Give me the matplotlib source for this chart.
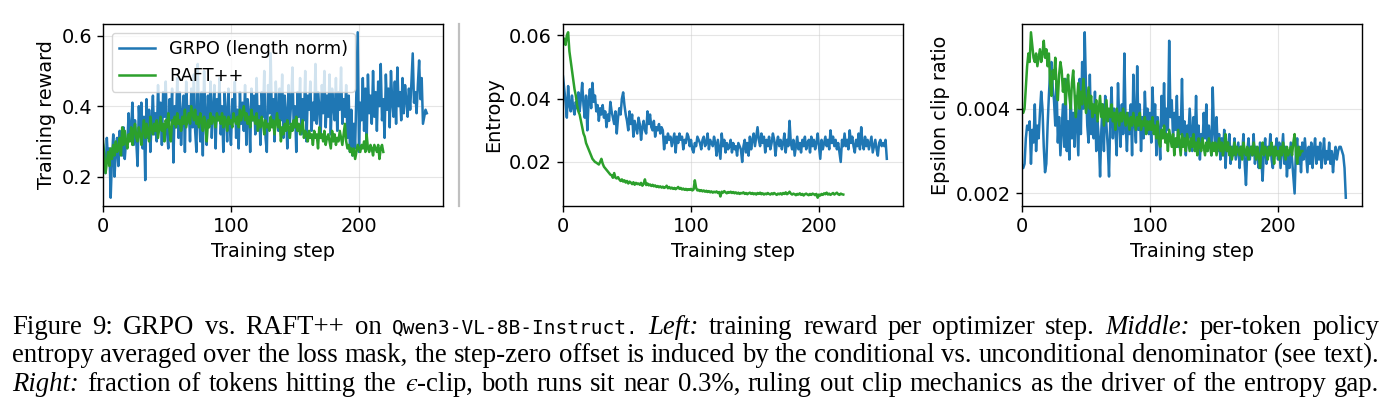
import matplotlib
matplotlib.use("Agg")
import matplotlib.pyplot as plt
from matplotlib.ticker import MultipleLocator

# ---------------- data ----------------
grpo_reward = [
    0.29, 0.25, 0.21, 0.31, 0.24, 0.28, 0.14, 0.25, 0.32, 0.20,
    0.27, 0.31, 0.23, 0.33, 0.28, 0.26, 0.34, 0.25, 0.30, 0.29,
    0.38, 0.31, 0.34, 0.41, 0.29, 0.36, 0.30, 0.23, 0.40, 0.33,
    0.41, 0.28, 0.37, 0.19, 0.42, 0.31, 0.39, 0.27, 0.36, 0.43,
    0.32, 0.38, 0.30, 0.46, 0.35, 0.41, 0.29, 0.44, 0.37, 0.47,
    0.33, 0.28, 0.42, 0.36, 0.45, 0.24, 0.40, 0.34, 0.48, 0.31,
    0.44, 0.29, 0.38, 0.43, 0.27, 0.47, 0.36, 0.40, 0.30, 0.45,
    0.34, 0.49, 0.33, 0.27, 0.52, 0.38, 0.30, 0.44, 0.26, 0.50,
    0.37, 0.29, 0.43, 0.35, 0.47, 0.31, 0.39, 0.46, 0.28, 0.42,
    0.36, 0.48, 0.32, 0.40, 0.27, 0.44, 0.38, 0.30, 0.45, 0.34,
    0.29, 0.42, 0.37, 0.47, 0.31, 0.39, 0.28, 0.44, 0.35, 0.41,
    0.33, 0.46, 0.29, 0.42, 0.38, 0.27, 0.45, 0.36, 0.43, 0.32,
    0.48, 0.34, 0.40, 0.29, 0.44, 0.37, 0.50, 0.31, 0.27, 0.46,
    0.38, 0.55, 0.35, 0.42, 0.30, 0.47, 0.39, 0.33, 0.45, 0.36,
    0.49, 0.31, 0.43, 0.38, 0.28, 0.46, 0.35, 0.41, 0.51, 0.34,
    0.40, 0.27, 0.44, 0.37, 0.48, 0.32, 0.42, 0.36, 0.50, 0.30,
    0.43, 0.39, 0.47, 0.33, 0.41, 0.36, 0.52, 0.35, 0.44, 0.40,
    0.31, 0.46, 0.38, 0.50, 0.34, 0.43, 0.37, 0.49, 0.32, 0.45,
    0.40, 0.36, 0.48, 0.33, 0.44, 0.39, 0.51, 0.35, 0.42, 0.37,
    0.46, 0.31, 0.43, 0.27, 0.39, 0.26, 0.35, 0.28, 0.44, 0.61,
    0.27, 0.41, 0.36, 0.48, 0.33, 0.45, 0.30, 0.49, 0.38, 0.43,
    0.35, 0.50, 0.37, 0.44, 0.33, 0.47, 0.40, 0.52, 0.36, 0.42,
    0.31, 0.49, 0.39, 0.45, 0.34, 0.50, 0.41, 0.37, 0.47, 0.35,
    0.51, 0.40, 0.44, 0.36, 0.48, 0.38, 0.46, 0.42, 0.37, 0.45,
    0.39, 0.47, 0.55, 0.41, 0.44, 0.38, 0.46, 0.53, 0.42, 0.48,
    0.35, 0.37, 0.39, 0.38,
]
raft_reward = [
    0.30, 0.26, 0.21, 0.24, 0.27, 0.23, 0.28, 0.25, 0.29, 0.26,
    0.30, 0.27, 0.28, 0.31, 0.26, 0.34, 0.29, 0.33, 0.30, 0.28,
    0.32, 0.30, 0.34, 0.29, 0.33, 0.35, 0.31, 0.30, 0.34, 0.32,
    0.29, 0.33, 0.36, 0.31, 0.35, 0.33, 0.30, 0.37, 0.34, 0.32,
    0.35, 0.33, 0.36, 0.31, 0.34, 0.37, 0.33, 0.35, 0.30, 0.36,
    0.34, 0.38, 0.33, 0.30, 0.36, 0.35, 0.37, 0.34, 0.38, 0.35,
    0.36, 0.33, 0.37, 0.35, 0.39, 0.34, 0.36, 0.38, 0.35, 0.40,
    0.38, 0.36, 0.39, 0.35, 0.37, 0.34, 0.38, 0.36, 0.33, 0.37,
    0.35, 0.30, 0.36, 0.34, 0.38, 0.35, 0.37, 0.36, 0.34, 0.38,
    0.36, 0.37, 0.35, 0.38, 0.34, 0.37, 0.36, 0.33, 0.37, 0.35,
    0.36, 0.34, 0.38, 0.36, 0.35, 0.37, 0.34, 0.39, 0.36, 0.38,
    0.40, 0.36, 0.38, 0.35, 0.37, 0.34, 0.39, 0.36, 0.37, 0.35,
    0.38, 0.33, 0.36, 0.34, 0.37, 0.35, 0.32, 0.36, 0.34, 0.35,
    0.33, 0.37, 0.34, 0.36, 0.32, 0.35, 0.38, 0.34, 0.36, 0.30,
    0.34, 0.32, 0.35, 0.33, 0.36, 0.34, 0.31, 0.35, 0.33, 0.36,
    0.34, 0.37, 0.33, 0.35, 0.32, 0.34, 0.36, 0.31, 0.33, 0.32,
    0.30, 0.33, 0.31, 0.32, 0.29, 0.33, 0.31, 0.32, 0.28, 0.34,
    0.31, 0.32, 0.30, 0.33, 0.29, 0.31, 0.32, 0.30, 0.28, 0.33,
    0.30, 0.32, 0.29, 0.31, 0.30, 0.33, 0.31, 0.29, 0.32, 0.35,
    0.30, 0.28, 0.29, 0.27, 0.28, 0.26, 0.28, 0.25, 0.27, 0.29,
    0.28, 0.27, 0.29, 0.28, 0.30, 0.27, 0.32, 0.28, 0.27, 0.29,
    0.28, 0.26, 0.29, 0.28, 0.27, 0.29, 0.25, 0.28, 0.29, 0.27,
]
grpo_entropy = [
    0.047, 0.043, 0.039, 0.034, 0.044, 0.038, 0.036, 0.041, 0.037, 0.035,
    0.039, 0.037, 0.042, 0.036, 0.040, 0.045, 0.038, 0.034, 0.041, 0.030,
    0.039, 0.043, 0.037, 0.045, 0.039, 0.041, 0.036, 0.038, 0.033, 0.037,
    0.035, 0.038, 0.034, 0.036, 0.031, 0.035, 0.033, 0.039, 0.036, 0.034,
    0.032, 0.036, 0.029, 0.034, 0.037, 0.035, 0.040, 0.042, 0.038, 0.035,
    0.033, 0.030, 0.036, 0.032, 0.035, 0.028, 0.033, 0.031, 0.029, 0.034,
    0.032, 0.027, 0.031, 0.033, 0.030, 0.029, 0.036, 0.032, 0.035, 0.031,
    0.030, 0.033, 0.028, 0.031, 0.030, 0.032, 0.029, 0.031, 0.030, 0.024,
    0.028, 0.026, 0.029, 0.027, 0.028, 0.025, 0.027, 0.029, 0.023, 0.028,
    0.026, 0.029, 0.027, 0.028, 0.024, 0.027, 0.026, 0.029, 0.028, 0.025,
    0.027, 0.024, 0.023, 0.026, 0.025, 0.028, 0.027, 0.026, 0.024, 0.027,
    0.028, 0.025, 0.026, 0.029, 0.024, 0.027, 0.026, 0.025, 0.028, 0.026,
    0.022, 0.027, 0.024, 0.021, 0.029, 0.025, 0.027, 0.023, 0.026, 0.024,
    0.025, 0.027, 0.023, 0.026, 0.024, 0.025, 0.022, 0.026, 0.025, 0.024,
    0.020, 0.025, 0.027, 0.023, 0.026, 0.022, 0.028, 0.024, 0.027, 0.029,
    0.025, 0.028, 0.031, 0.027, 0.025, 0.029, 0.026, 0.028, 0.023, 0.027,
    0.025, 0.028, 0.024, 0.026, 0.029, 0.027, 0.022, 0.026, 0.028, 0.025,
    0.027, 0.024, 0.026, 0.029, 0.023, 0.027, 0.025, 0.033, 0.026, 0.024,
    0.027, 0.022, 0.025, 0.028, 0.024, 0.026, 0.023, 0.027, 0.025, 0.028,
    0.024, 0.026, 0.027, 0.023, 0.028, 0.025, 0.027, 0.024, 0.026, 0.029,
    0.025, 0.021, 0.027, 0.024, 0.026, 0.028, 0.025, 0.027, 0.024, 0.030,
    0.026, 0.028, 0.025, 0.027, 0.024, 0.026, 0.023, 0.020, 0.027, 0.025,
    0.029, 0.025, 0.027, 0.024, 0.030, 0.026, 0.028, 0.025, 0.023, 0.027,
    0.025, 0.029, 0.024, 0.031, 0.026, 0.024, 0.028, 0.025, 0.027, 0.024,
    0.026, 0.028, 0.023, 0.025, 0.027, 0.024, 0.022, 0.026, 0.027, 0.025,
    0.026, 0.025, 0.027, 0.021,
]
raft_entropy = [
    0.058, 0.059, 0.057, 0.060, 0.061, 0.055, 0.052, 0.049, 0.046, 0.043,
    0.041, 0.038, 0.036, 0.035, 0.033, 0.031, 0.029, 0.028, 0.026, 0.025,
    0.024, 0.023, 0.022, 0.021, 0.0205, 0.020, 0.0198, 0.0195, 0.0192, 0.020,
    0.021, 0.0195, 0.0185, 0.018, 0.0175, 0.017, 0.0165, 0.016, 0.0158, 0.015,
    0.0165, 0.015, 0.0148, 0.0152, 0.0145, 0.014, 0.0145, 0.0138, 0.0142, 0.0135,
    0.014, 0.0132, 0.0138, 0.0135, 0.013, 0.0136, 0.0128, 0.0134, 0.013, 0.0132,
    0.0128, 0.0134, 0.0125, 0.0131, 0.0145, 0.0127, 0.0132, 0.0126, 0.0129, 0.0124,
    0.0128, 0.0123, 0.0126, 0.0121, 0.0124, 0.012, 0.0123, 0.0119, 0.0122, 0.0118,
    0.012, 0.0125, 0.0117, 0.0121, 0.0116, 0.0119, 0.0115, 0.0118, 0.0114, 0.0117,
    0.0121, 0.0115, 0.0118, 0.0113, 0.0116, 0.0112, 0.0115, 0.0111, 0.0114, 0.0112,
    0.0115, 0.011, 0.0113, 0.0142, 0.0118, 0.011, 0.0112, 0.0108, 0.0111, 0.0107,
    0.011, 0.0106, 0.0109, 0.0105, 0.0108, 0.0104, 0.0107, 0.0103, 0.0106, 0.0104,
    0.0107, 0.0102, 0.0105, 0.0091, 0.0106, 0.0103, 0.0108, 0.0104, 0.0101, 0.0105,
    0.0103, 0.0106, 0.0102, 0.0105, 0.0101, 0.0104, 0.010, 0.0103, 0.0099, 0.0102,
    0.0101, 0.0104, 0.0099, 0.0102, 0.0098, 0.0101, 0.0103, 0.0099, 0.0102, 0.0098,
    0.0101, 0.0097, 0.0102, 0.0099, 0.0103, 0.0098, 0.0101, 0.0097, 0.010, 0.0098,
    0.0102, 0.0099, 0.0097, 0.0101, 0.0098, 0.0102, 0.0099, 0.0096, 0.010, 0.0098,
    0.0101, 0.0097, 0.0102, 0.0099, 0.0104, 0.0098, 0.0101, 0.0106, 0.010, 0.0097,
    0.010, 0.0098, 0.0095, 0.0099, 0.0097, 0.0101, 0.0096, 0.0099, 0.0094, 0.0098,
    0.010, 0.0097, 0.0095, 0.0099, 0.0096, 0.010, 0.0098, 0.0095, 0.0099, 0.0087,
    0.0097, 0.0094, 0.0099, 0.0096, 0.0101, 0.0098, 0.0103, 0.0097, 0.010, 0.0096,
    0.0099, 0.0102, 0.0097, 0.010, 0.0103, 0.0098, 0.0096, 0.010, 0.0098, 0.0097,
]
grpo_clip = [
    0.0026, 0.0026, 0.0027, 0.0033, 0.0036, 0.0035, 0.0037, 0.0027, 0.0035, 0.0032,
    0.0041, 0.0030, 0.0036, 0.0033, 0.0039, 0.0044, 0.0040, 0.0031, 0.0025, 0.0027,
    0.0036, 0.0043, 0.0049, 0.0051, 0.0045, 0.0042, 0.0036, 0.0046, 0.0032, 0.0038,
    0.0029, 0.0035, 0.0041, 0.0031, 0.0047, 0.0030, 0.0037, 0.0028, 0.0044, 0.0033,
    0.0039, 0.0031, 0.0043, 0.0036, 0.0029, 0.0047, 0.0034, 0.0051, 0.0040, 0.0058,
    0.0045, 0.0036, 0.0032, 0.0048, 0.0034, 0.0039, 0.0033, 0.0044, 0.0030, 0.0037,
    0.0033, 0.0024, 0.0035, 0.0041, 0.0030, 0.0043, 0.0036, 0.0031, 0.0024, 0.0038,
    0.0045, 0.0033, 0.0040, 0.0035, 0.0029, 0.0046, 0.0037, 0.0031, 0.0041, 0.0034,
    0.0053, 0.0036, 0.0030, 0.0039, 0.0034, 0.0041, 0.0029, 0.0048, 0.0037, 0.0032,
    0.0050, 0.0035, 0.0041, 0.0030, 0.0038, 0.0033, 0.0044, 0.0036, 0.0040, 0.0034,
    0.0039, 0.0032, 0.0045, 0.0036, 0.0041, 0.0029, 0.0038, 0.0034, 0.0028, 0.0043,
    0.0036, 0.0046, 0.0033, 0.0040, 0.0035, 0.0056, 0.0038, 0.0042, 0.0033, 0.0039,
    0.0035, 0.0043, 0.0031, 0.0038, 0.0034, 0.0047, 0.0032, 0.0037, 0.0029, 0.0036,
    0.0033, 0.0040, 0.0035, 0.0030, 0.0038, 0.0032, 0.0043, 0.0031, 0.0036, 0.0028,
    0.0034, 0.0031, 0.0039, 0.0033, 0.0041, 0.0030, 0.0036, 0.0033, 0.0029, 0.0045,
    0.0035, 0.0031, 0.0038, 0.0030, 0.0034, 0.0028, 0.0033, 0.0029, 0.0035, 0.0026,
    0.0032, 0.0030, 0.0034, 0.0027, 0.0031, 0.0029, 0.0033, 0.0028, 0.0030, 0.0032,
    0.0026, 0.0031, 0.0029, 0.0034, 0.0027, 0.0022, 0.0030, 0.0033, 0.0028, 0.0031,
    0.0029, 0.0034, 0.0027, 0.0031, 0.0029, 0.0026, 0.0032, 0.0028, 0.0023, 0.0030,
    0.0033, 0.0027, 0.0031, 0.0029, 0.0034, 0.0028, 0.0026, 0.0031, 0.0030, 0.0033,
    0.0028, 0.0032, 0.0026, 0.0030, 0.0034, 0.0027, 0.0031, 0.0024, 0.0029, 0.0026,
    0.0032, 0.0028, 0.0024, 0.0020, 0.0030, 0.0033, 0.0027, 0.0031, 0.0025, 0.0032,
    0.0028, 0.0033, 0.0029, 0.0025, 0.0031, 0.0027, 0.0032, 0.0026, 0.0030, 0.0033,
    0.0027, 0.0031, 0.0028, 0.0032, 0.0026, 0.0029, 0.0033, 0.0027, 0.0030, 0.0028,
    0.0032, 0.0027, 0.0030, 0.0025, 0.0029, 0.0031, 0.0028, 0.0030, 0.0031, 0.0031,
    0.0030, 0.0029, 0.0026, 0.0019,
]
raft_clip = [
    0.0040, 0.0039, 0.0040, 0.0045, 0.0050, 0.0053, 0.0051, 0.0058, 0.0055, 0.0052,
    0.0051, 0.0053, 0.0050, 0.0052, 0.0054, 0.0051, 0.0053, 0.0056, 0.0052, 0.0054,
    0.0050, 0.0053, 0.0046, 0.0043, 0.0049, 0.0047, 0.0052, 0.0045, 0.0042, 0.0048,
    0.0051, 0.0049, 0.0044, 0.0047, 0.0041, 0.0045, 0.0048, 0.0043, 0.0040, 0.0046,
    0.0049, 0.0044, 0.0038, 0.0042, 0.0046, 0.0040, 0.0044, 0.0041, 0.0047, 0.0043,
    0.0039, 0.0042, 0.0045, 0.0040, 0.0043, 0.0038, 0.0041, 0.0039, 0.0042, 0.0037,
    0.0040, 0.0043, 0.0038, 0.0041, 0.0036, 0.0039, 0.0042, 0.0037, 0.0040, 0.0038,
    0.0041, 0.0037, 0.0039, 0.0035, 0.0040, 0.0038, 0.0036, 0.0039, 0.0037, 0.0040,
    0.0038, 0.0036, 0.0039, 0.0037, 0.0035, 0.0038, 0.0036, 0.0039, 0.0037, 0.0035,
    0.0038, 0.0036, 0.0039, 0.0035, 0.0037, 0.0036, 0.0038, 0.0034, 0.0037, 0.0035,
    0.0037, 0.0035, 0.0038, 0.0034, 0.0036, 0.0033, 0.0037, 0.0032, 0.0031, 0.0035,
    0.0033, 0.0036, 0.0032, 0.0034, 0.0030, 0.0035, 0.0033, 0.0031, 0.0034, 0.0029,
    0.0033, 0.0031, 0.0035, 0.0032, 0.0029, 0.0034, 0.0031, 0.0033, 0.0030, 0.0034,
    0.0032, 0.0030, 0.0033, 0.0031, 0.0034, 0.0030, 0.0032, 0.0029, 0.0033, 0.0031,
    0.0030, 0.0033, 0.0031, 0.0029, 0.0032, 0.0030, 0.0033, 0.0031, 0.0029, 0.0032,
    0.0030, 0.0032, 0.0029, 0.0031, 0.0033, 0.0030, 0.0032, 0.0029, 0.0031, 0.0034,
    0.0030, 0.0032, 0.0029, 0.0031, 0.0028, 0.0030, 0.0032, 0.0029, 0.0031, 0.0030,
    0.0029, 0.0031, 0.0028, 0.0032, 0.0030, 0.0029, 0.0031, 0.0028, 0.0030, 0.0031,
    0.0029, 0.0032, 0.0030, 0.0028, 0.0031, 0.0029, 0.0026, 0.0030, 0.0032, 0.0029,
    0.0031, 0.0030, 0.0028, 0.0031, 0.0029, 0.0032, 0.0030, 0.0027, 0.0031, 0.0029,
    0.0030, 0.0028, 0.0031, 0.0029, 0.0032, 0.0030, 0.0028, 0.0031, 0.0029, 0.0030,
    0.0031, 0.0029, 0.0032, 0.0034, 0.0030, 0.0027, 0.0031, 0.0029, 0.0030, 0.0030,
]

series_labels = ["GRPO (length norm)", "RAFT++"]
y_labels = ["Training reward", "Entropy", "Epsilon clip ratio"]
x_label = "Training step"
caption_lines = [
    [("Figure", "rm"), ("9:", "rm"), ("GRPO", "rm"), ("vs.", "rm"), ("RAFT++", "rm"),
     ("on", "rm"), ("Qwen3-VL-8B-Instruct.", "tt"), ("Left:", "it"), ("training", "rm"),
     ("reward", "rm"), ("per", "rm"), ("optimizer", "rm"), ("step.", "rm"),
     ("Middle:", "it"), ("per-token", "rm"), ("policy", "rm")],
    [(w, "rm") for w in "entropy averaged over the loss mask, the step-zero offset is induced "
                        "by the conditional vs. unconditional denominator (see text).".split()],
    [("Right:", "it")] + [(w, "rm") for w in "fraction of tokens hitting the".split()]
    + [("$\u03f5$-clip,", "rm")]
    + [(w, "rm") for w in "both runs sit near 0.3%, ruling out clip mechanics as the driver "
                          "of the entropy gap.".split()],
]

# ---------------- style ----------------
plt.rcParams["mathtext.fontset"] = "stix"
FS = 13.9
BLUE = "#1f77b4"
GREEN = "#2ca02c"

W, H = 1397, 418
fig = plt.figure(figsize=(W / 100, H / 100), dpi=100)

lefts = [103, 563, 1022]
ax_w = 340
ax_top, ax_bot = 24, 206
datasets = [(grpo_reward, raft_reward), (grpo_entropy, raft_entropy), (grpo_clip, raft_clip)]
ysteps = [0.2, 0.02, 0.002]

axes = []
for i, (l, (g, r)) in enumerate(zip(lefts, datasets)):
    ax = fig.add_axes([l / W, 1 - ax_bot / H, ax_w / W, (ax_bot - ax_top) / H])
    ax.plot(range(len(g)), g, color=BLUE, lw=1.8, label=series_labels[0])
    ax.plot(range(len(r)), r, color=GREEN, lw=1.8, label=series_labels[1])
    ax.set_xlim(left=0)
    ax.xaxis.set_major_locator(MultipleLocator(100))
    ax.yaxis.set_major_locator(MultipleLocator(ysteps[i]))
    ax.grid(True, color="#cccccc", alpha=0.5, lw=0.8)
    ax.set_axisbelow(True)
    ax.tick_params(labelsize=FS, width=1.0, length=4.5)
    for s in ax.spines.values():
        s.set_linewidth(1.0)
    ax.set_xlabel(x_label, fontsize=FS)
    ax.set_ylabel(y_labels[i], fontsize=FS)
    axes.append(ax)

axes[0].legend(loc="upper left", fontsize=12.8, framealpha=0.8, borderaxespad=0.5)

# vertical separator between left and middle panels
fig.add_artist(plt.Line2D([459 / W, 459 / W], [1 - 206 / H, 1 - 24 / H],
                          transform=fig.transFigure, color="#c0c0c0", lw=1.6))

# ---------------- caption (justified) ----------------
SERIF = "Liberation Serif"
CFS = 19.3
styles = {
    "rm": dict(family=SERIF, style="normal", size=CFS),
    "it": dict(family=SERIF, style="italic", size=CFS),
    "tt": dict(family="DejaVu Sans Mono", style="normal", size=14.0),
}
fig.canvas.draw()
renderer = fig.canvas.get_renderer()

x0_px, x1_px = 12, 1379
baselines = [334, 362, 391]
for line, ybl in zip(caption_lines, baselines):
    objs = []
    for word, st in line:
        t = fig.text(0, 1 - ybl / H, word, va="baseline", ha="left", **styles[st])
        objs.append(t)
    widths = [t.get_window_extent(renderer).width for t in objs]
    gap = (x1_px - x0_px - sum(widths)) / (len(objs) - 1)
    x = x0_px
    for t, w in zip(objs, widths):
        t.set_x(x / W)
        x += w + gap

fig.savefig("out.png", dpi=100)
